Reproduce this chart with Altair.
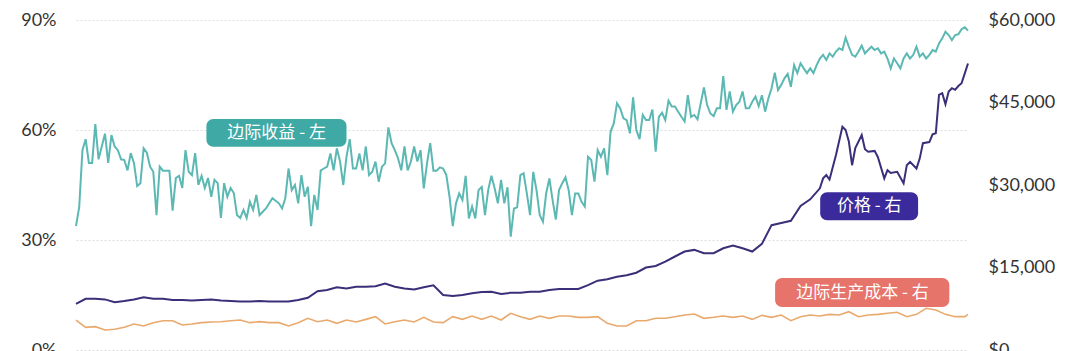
import altair as alt
import pandas as pd

# ---- data ----
margin_pct = [
    33.8, 39, 54.5, 57.5, 51, 51, 61.6, 52, 55.5, 59, 51, 58.6, 55.5, 54.5, 52, 51.8, 49, 53.7, 51, 44.7,
    45.5, 55, 53.8, 50, 48.6, 36.8, 50, 48.9, 48.9, 48.9, 38, 46.9, 47.5, 44.2, 54.5, 48.6, 47.7, 53.7, 45, 47.5,
    44.2, 46.9, 41.8, 46.4,
    45.5, 36, 45.5, 41.8, 44.2, 42.8, 36.8, 36, 38.2, 36, 40.4, 38.2, 42.3, 36.8, 37.7, 38.6, 40, 41.4, 40.7, 40,
    38.6, 41.4, 49.5, 43.6, 45, 40, 47.7, 41.8, 44.5, 33.8, 42.3, 38.2, 49, 49.5, 50, 53.6, 49, 55, 51.4, 45,
    52.7, 57.5, 49.5, 49.5, 53.6, 49, 55.5, 47.7,
    48.6, 51.4, 45.9, 50, 50.9, 60.7, 56.4, 54.5, 52.3, 49, 55.5, 49, 51.4, 55.5, 51.4, 54.5, 44.1, 50.9, 56.4, 48.9,
    48.9, 49.8, 49.5, 47.7, 41.8, 33.8, 40, 42.7, 40.9, 47.5, 35.9, 39.1, 35.9, 43.6, 44.5, 36.8, 43.6, 47.5, 44.1, 40,
    46.4, 40, 44.4, 30.9, 38.6, 38.9, 47.7,
    48.2, 42.7, 36.8, 48.6, 43.6, 36.8, 35, 42.7, 46.8, 40.9, 35.6, 43.6, 45.5, 47.1, 43.6, 36.8, 42.7, 42.7, 40.4, 39.1,
    52.7, 51.8, 45.9, 54.5, 52.7, 55, 47.7, 59.5, 61.8, 67.3, 65.9, 63.2, 62.7, 59.1, 68.9, 60, 57.5, 64.1, 62.7, 62.7,
    65.6, 54.1, 63.6, 64.7, 62.7, 68, 66.4,
    66.4, 65, 63.6, 62.3, 69.5, 63.6, 64.1, 62.9, 67.3, 71.6, 66.8, 64.5, 63.8, 65.9, 65.9, 74.7, 65.5, 70.5, 65, 66.8,
    67.7, 70.5, 65.9, 65.9, 67.7, 69.1, 66.5, 69.5, 65, 68.6, 71.4, 75.6, 70.9, 72.3, 74.1, 75.3, 71.8, 77.7, 75.5, 78.2,
    76.8, 75.5, 76.8, 75.5, 77.7, 79.5,
    80.5, 79.1, 80.9, 80, 81.4, 82.3, 81.8, 85.2, 82.7, 80.5, 80, 81.4, 83, 80.9, 81.8, 82.7, 81.8, 82.3, 80.9, 81.4,
    79.5, 76.8, 79.5, 78.2, 76.8, 79.5, 80.9, 79.5, 80.5, 82.7, 80, 80.9, 79.5, 80.5, 81.8, 81.4, 83.6, 85, 86.8, 85.9,
    84.5, 85.9, 86.1, 87.5, 88, 87.1,
]
margin_week = list(range(len(margin_pct)))

price_week = list(range(0, 229, 3)) + [
    231, 232, 233, 234, 236, 238, 239, 240, 241, 242, 244, 245, 246, 248, 249, 251, 252, 253, 255, 257,
    258, 259, 261, 262, 263, 265, 266, 267, 268, 269, 270, 271, 272, 273, 274, 275, 276, 277]
price_usd = [
    8400, 9300, 9300, 9200, 8700, 8900, 9200, 9600, 9300, 9300, 9100, 9100, 9000, 9100, 9200, 9000, 8900, 8800, 8800, 8900,
    8800, 8800, 8800, 9100, 9500, 10700, 10900, 11400, 11200, 11500, 11500, 11600, 12100, 11500, 11200, 11000, 11400, 11750, 10000, 9800,
    10000, 10300, 10550, 10600, 10200, 10400, 10400, 10600, 10600, 10900, 11100, 11100, 11100, 11800, 12600, 12850, 13300, 13600, 14050, 15000,
    15270, 16050, 17000, 17900, 18200, 17600, 17600, 18500, 19000, 18500, 17900, 19300, 22700, 23100, 23500, 26200, 27400,
    29400, 31200, 31800, 31000, 35450, 40600, 40000, 37900, 33600, 36700, 39100, 36500, 36050, 36200, 35100, 31200, 32700, 32200, 32400, 30300,
    33600, 34200, 33000, 34800, 37600, 37800, 39200, 39400, 46400, 46700, 44700, 47000, 47600, 47300, 48000, 48500, 50300, 52100,
]

cost_week = list(range(0, 277, 3)) + [277]
cost_usd = [
    5450, 4120, 4240, 3640, 3760, 4120, 4730, 4360, 4970, 5330, 5330, 4545, 4730, 4970, 5090,
    5150, 5330, 5450, 4970, 5150, 4970, 4970, 4360, 4970, 5760, 5150, 5450, 4850, 5450, 5090, 5570,
    6060, 4730, 5150, 5450, 5090, 5940, 5090, 4970, 6060, 5570, 6180, 5570, 6180, 5450, 6670,
    6060, 5570, 6180, 5760, 6180, 6180, 5940, 5940, 6060, 4850, 4360, 4360, 5330, 5330, 5760, 5760,
    6060, 6360, 6550, 5760, 5940, 6180, 5940, 6180, 5570, 6300, 5940, 6360, 5330, 6060, 6360, 6180,
    6480, 6360, 6970, 6060, 6360, 6480, 6670, 6850, 6060, 6480, 7580, 7270, 6480, 6060, 6060,
    6480,
]

left_ticks = [0, 30, 60, 90]
right_ticks = [0, 15000, 30000, 45000, 60000]

# ---- styling ----
TEAL, TEAL_BOX = "#5cb8b3", "#3fa9a6"
PURPLE, PURPLE_BOX = "#3a2f78", "#3b2a9b"
ORANGE, ORANGE_BOX = "#e9a96d", "#e6746b"
FONT = "Lato"
CJK = "Noto Sans CJK SC"

margin_df = pd.DataFrame({"week": margin_week, "v": margin_pct})
price_df = pd.DataFrame({"week": price_week, "v": price_usd})
cost_df = pd.DataFrame({"week": cost_week, "v": cost_usd})

xs = alt.Scale(domain=[0, 277], nice=False, zero=False)
ys_left = alt.Scale(domain=[0, 90], nice=False, zero=True)
ys_right = alt.Scale(domain=[0, 60000], nice=False, zero=True)

X = alt.X("week:Q", scale=xs, axis=None)

left_axis = alt.Axis(values=left_ticks, labelExpr="datum.value + '%'", grid=True, gridColor="#dddddd",
                     gridDash=[2, 2], gridWidth=1, domain=False, ticks=False, labelPadding=20,
                     labelFontSize=18, labelFont=FONT, labelColor="#333333", title=None, orient="left")
right_axis = alt.Axis(values=right_ticks, labelExpr="'$' + format(datum.value, ',.0f')", grid=False,
                      domain=False, ticks=False, labelPadding=20, labelFontSize=18, labelFont=FONT,
                      labelColor="#333333", title=None, orient="right")


def box(x0, x1, y0, y1, color, scale, axis):
    d = pd.DataFrame({"x0": [x0], "x1": [x1], "y0": [y0], "y1": [y1]})
    return alt.Chart(d).mark_rect(color=color, cornerRadius=7).encode(
        x=alt.X("x0:Q", scale=xs, axis=None), x2="x1:Q",
        y=alt.Y("y0:Q", scale=scale, axis=axis), y2="y1:Q")


def label(x, y, text, scale, axis):
    d = pd.DataFrame({"x": [x], "y": [y], "t": [text]})
    return alt.Chart(d).mark_text(color="white", font=CJK, fontSize=17, fontWeight="normal",
                                  align="center", baseline="middle").encode(
        x=alt.X("x:Q", scale=xs, axis=None), y=alt.Y("y:Q", scale=scale, axis=axis), text="t:N")


teal_line = alt.Chart(margin_df).mark_line(color=TEAL, strokeWidth=2).encode(
    x=X, y=alt.Y("v:Q", scale=ys_left, axis=left_axis))
left_layer = alt.layer(
    teal_line,
    box(40.5, 84.0, 55.4, 63.0, TEAL_BOX, ys_left, left_axis),
    label(62.3, 59.3, "边际收益 - 左", ys_left, left_axis),
)

price_line = alt.Chart(price_df).mark_line(color=PURPLE, strokeWidth=2).encode(
    x=X, y=alt.Y("v:Q", scale=ys_right, axis=right_axis))
cost_line = alt.Chart(cost_df).mark_line(color=ORANGE, strokeWidth=1.6).encode(
    x=X, y=alt.Y("v:Q", scale=ys_right, axis=right_axis))
right_layer = alt.layer(
    price_line,
    cost_line,
    box(231.1, 261.5, 23600, 28700, PURPLE_BOX, ys_right, right_axis),
    label(246.3, 26150, "价格 - 右", ys_right, right_axis),
    box(217.1, 271.2, 7820, 13090, ORANGE_BOX, ys_right, right_axis),
    label(244.2, 10450, "边际生产成本 - 右", ys_right, right_axis),
)

chart = alt.layer(left_layer, right_layer).resolve_scale(y="independent").resolve_axis(
    y="independent").properties(
    width=892, height=330,
    autosize=alt.AutoSizeParams(type="none"),
    padding={"left": 76, "top": 20, "right": 112, "bottom": 1},
    background="white",
).configure_view(stroke=None)

chart.save("out.html", embed_options={"renderer": "svg", "actions": False})
